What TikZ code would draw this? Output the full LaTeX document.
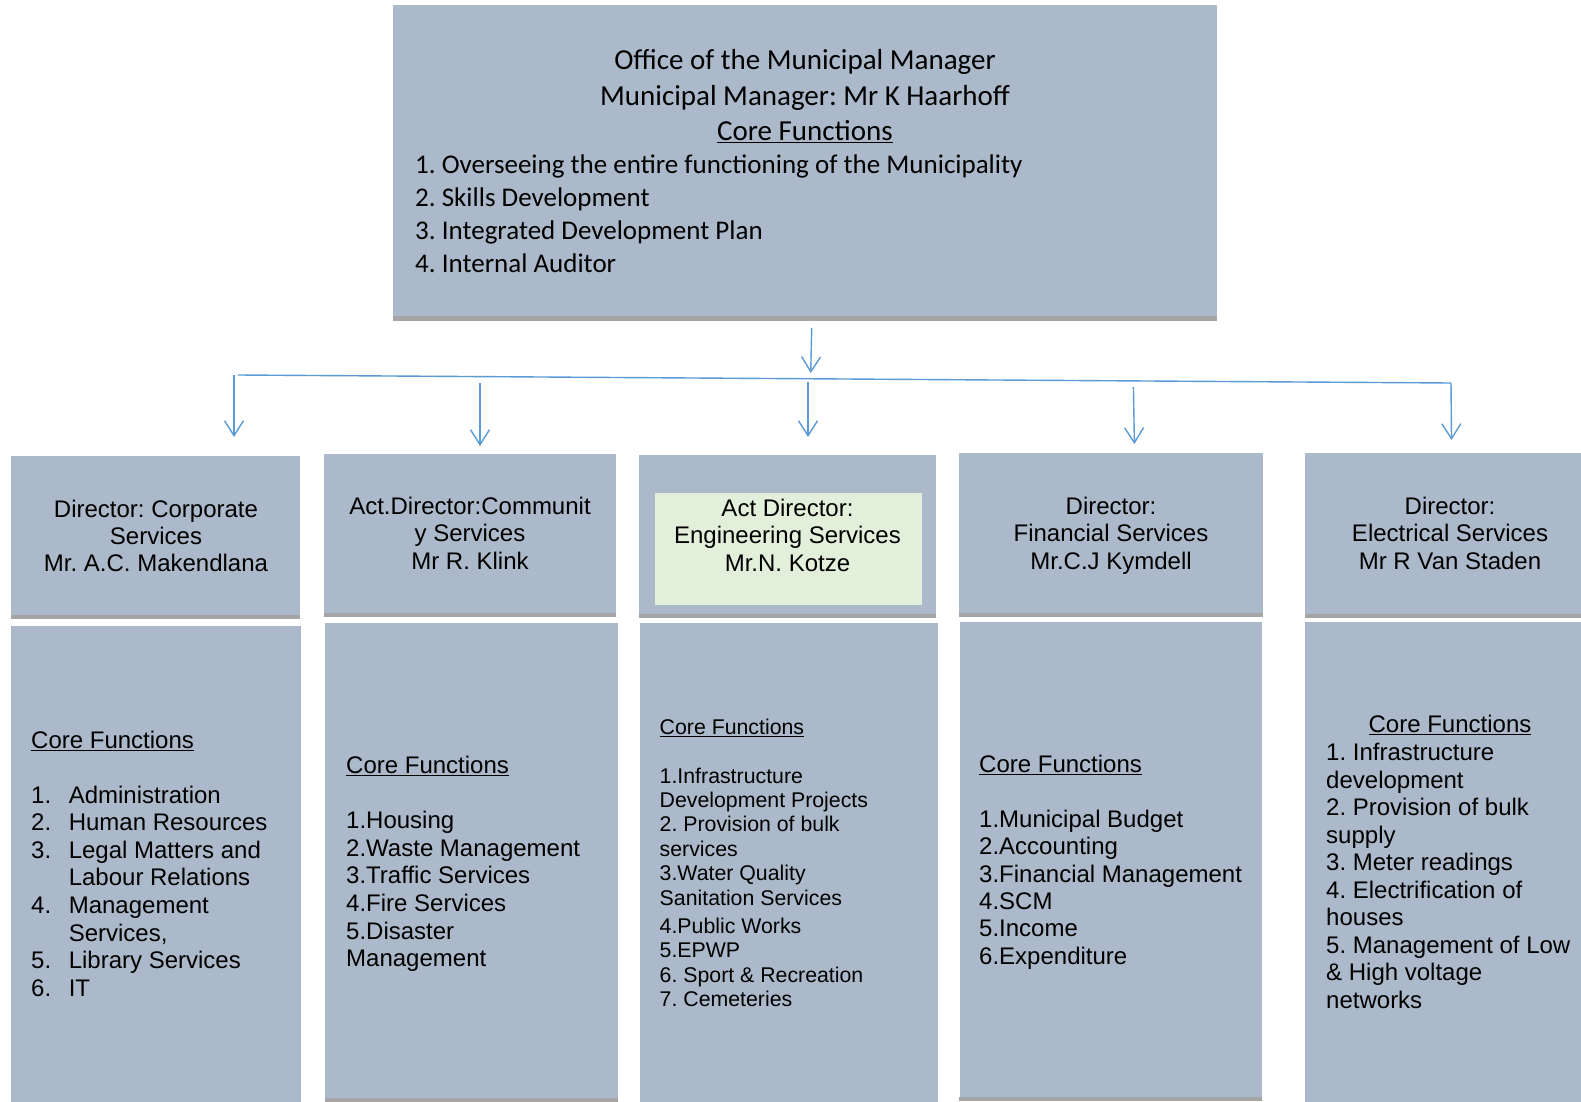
\documentclass[tikz,border=0pt]{standalone}
\usepackage{fontspec}
\setmainfont{Liberation Sans}
\newfontfamily\calibrifont{Carlito}
\usetikzlibrary{arrows.meta}
\frenchspacing

\definecolor{boxfill}{HTML}{ACB9CA}
\definecolor{boxshade}{HTML}{A5A5A5}
\definecolor{hilite}{HTML}{E2EFDA}
\definecolor{linkblue}{HTML}{5B9BD5}

% rows of text: #1 name prefix, #2 anchor, #3 x, #4 first baseline, #5 line step, #6 rows
\newcommand\stackrows[6]{%
  \foreach \row [count=\k] in {#6}{%
    \node[anchor=#2, inner sep=0pt, name=#1\k] at (#3, {#4+(\k-1)*#5}) {\row};}}

% grey strip along the lower edge of a panel
\newcommand\panelshade[2]{\fill[boxshade] ([yshift=#2]#1.south west) rectangle (#1.south east);}

\tikzset{
  panel/.style={fill=boxfill, draw=none, inner sep=0pt},
  link/.style={draw=linkblue, line width=1.4pt},
  arr/.style={link, -{Straight Barb[length=15pt,width=19pt,line width=1.4pt]}},
  big/.style={font=\frenchspacing\fontsize{24}{27}\selectfont},
  small/.style={font=\frenchspacing\fontsize{21.3}{24}\selectfont},
  head/.style={font=\frenchspacing\calibrifont\fontsize{29}{34}\selectfont},
  headlist/.style={font=\frenchspacing\calibrifont\fontsize{27}{32}\selectfont},
}

\begin{document}
\begin{tikzpicture}[x=1pt,y=-1pt]
\useasboundingbox (0,0) rectangle (1581,1102);
\fill[white] (0,0) rectangle (1581,1102);
\clip (0,0) rectangle (1581,1102);

% ---------- office of the municipal manager ----------
\node[panel, minimum width=824pt, minimum height=315.7pt] (mm) at (805,163.15) {};
\panelshade{mm}{5pt}
\begin{scope}[head]
  \stackrows{mmc}{base}{805}{69.8}{35.3}{Office of the Municipal Manager,Municipal Manager: Mr K Haarhoff,\underline{Core Functions}}
\end{scope}
\begin{scope}[headlist]
  \stackrows{mml}{base west}{415}{173.4}{33}{1. Overseeing the entire functioning of the Municipality,2. Skills Development,3. Integrated Development Plan,4. Internal Auditor}
\end{scope}

% ---------- directors ----------
\node[panel, minimum width=289pt, minimum height=163pt] (d1) at (155.5,537.5) {};
\node[panel, minimum width=292pt, minimum height=163pt] (d2) at (470,535.5) {};
\node[panel, minimum width=297pt, minimum height=163pt] (d3) at (787.5,536.5) {};
\node[panel, minimum width=304pt, minimum height=164pt] (d4) at (1111,535) {};
\node[panel, minimum width=290pt, minimum height=165pt] (d5) at (1450,535.5) {};
\foreach \d in {d1,d2,d3,d4,d5} {\panelshade{\d}{4pt}}
\node[fill=hilite, inner sep=0pt, minimum width=267pt, minimum height=112pt] (eg) at (788,549) {};

\begin{scope}[big]
  \stackrows{d1t}{base}{156}{517.6}{26.9}{Director: Corporate,Services,Mr. A.C. Makendlana}
  \stackrows{d2t}{base}{470}{514.6}{27.3}{Act.Director:Communit,y Services,Mr R. Klink}
  \stackrows{d3t}{base}{787.5}{516.6}{27.3}{Act Director:,Engineering Services,Mr.N. Kotze}
  \stackrows{d4t}{base}{1111}{514.6}{27.3}{Director:,Financial Services,Mr.C.J Kymdell}
  \stackrows{d5t}{base}{1450}{514.6}{27.3}{Director:,Electrical Services,Mr R Van Staden}
\end{scope}

% ---------- core function panels ----------
\node[panel, minimum width=290pt, minimum height=482pt] (f1) at (156,867) {};
\node[panel, minimum width=293pt, minimum height=479pt] (f2) at (471.5,862.5) {};
\node[panel, minimum width=298pt, minimum height=485pt] (f3) at (788.6,865.5) {};
\node[panel, minimum width=302pt, minimum height=479pt] (f4) at (1110.5,861.5) {};
\node[panel, minimum width=290pt, minimum height=486pt] (f5) at (1450,865) {};
\foreach \f in {f1,f2,f3,f4,f5} {\panelshade{\f}{4pt}}

\begin{scope}[big]
  % corporate services
  \node[anchor=base west, inner sep=0pt] (f1h) at (31,748.6) {\underline{Core Functions}};
  \foreach \n/\r in {1/0,2/1,3/2,4/4,5/6,6/7}
    \node[anchor=base west, inner sep=0pt, name=f1n\n] at (31,{803.1+\r*27.6}) {\n.};
  \stackrows{f1r}{base west}{68.6}{803.1}{27.6}{Administration,Human Resources,Legal Matters and,Labour Relations,Management,{Services,},Library Services,IT}
  % community services
  \node[anchor=base west, inner sep=0pt] (f2h) at (346,773.6) {\underline{Core Functions}};
  \stackrows{f2r}{base west}{346}{828.6}{27.6}{1.Housing,2.Waste Management,3.Traffic Services,4.Fire Services,5.Disaster,Management}
  % financial services
  \node[anchor=base west, inner sep=0pt] (f4h) at (979,772.6) {\underline{Core Functions}};
  \stackrows{f4r}{base west}{979}{827.3}{27.4}{1.Municipal Budget,2.Accounting,3.Financial Management,4.SCM,5.Income,6.Expenditure}
  % electrical services
  \node[anchor=base, inner sep=0pt] (f5h) at (1450,732.6) {\underline{Core Functions}};
  \stackrows{f5r}{base west}{1326}{760.6}{27.5}{1. Infrastructure,development,2. Provision of bulk,supply,3. Meter readings,4. Electrification of,houses,5. Management of Low,\& High voltage,networks}
\end{scope}

\begin{scope}[small]
  % engineering services
  \node[anchor=base west, inner sep=0pt] (f3h) at (659.5,734.6) {\underline{Core Functions}};
  \stackrows{f3a}{base west}{659.5}{783}{24.4}{1.Infrastructure,Development Projects,2. Provision of bulk,services,3.Water Quality,Sanitation Services}
  \stackrows{f3b}{base west}{659.5}{933.2}{24.5}{4.Public Works,5.EPWP,6. Sport \& Recreation,7. Cemeteries}
\end{scope}

% ---------- connectors ----------
\coordinate (t0) at (811.7,328);  \coordinate (t1) at (810.7,373);
\coordinate (busL) at (238,375);  \coordinate (busR) at (1451,383);
\coordinate (a1s) at (234,375);   \coordinate (a1e) at (234,437);
\coordinate (a2s) at (480,383);   \coordinate (a2e) at (480,446);
\coordinate (a3s) at (808,382);   \coordinate (a3e) at (808,437);
\coordinate (a4s) at (1133.4,387);\coordinate (a4e) at (1134.4,444);
\coordinate (a5s) at (1451,383);  \coordinate (a5e) at (1451.5,440);

\draw[arr] (t0) -- (t1);
\draw[link] (busL) -- (busR);
\draw[arr] (a1s) -- (a1e);
\draw[arr] (a2s) -- (a2e);
\draw[arr] (a3s) -- (a3e);
\draw[arr] (a4s) -- (a4e);
\draw[arr] (a5s) -- (a5e);
\end{tikzpicture}
\end{document}
